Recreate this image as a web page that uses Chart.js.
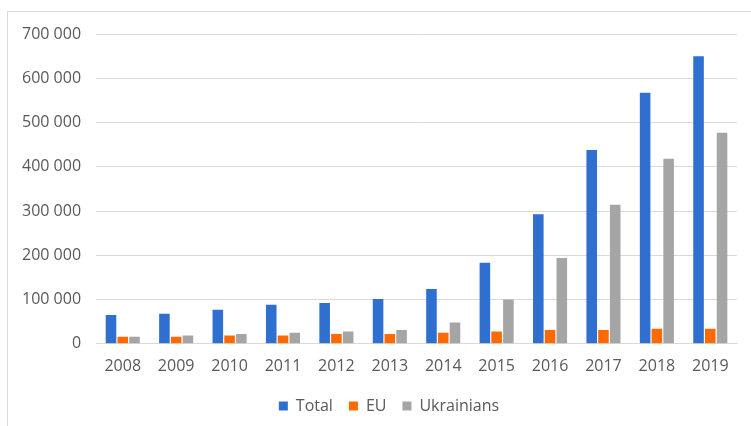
<!DOCTYPE html>
<html>
<head>
<meta charset="utf-8">
<script src="https://cdn.jsdelivr.net/npm/chart.js@4"></script>
<style>
  html, body { margin: 0; padding: 0; background: #fff; }
  #wrap { position: relative; width: 751px; height: 426px; }
  #frame { position: absolute; left: 7px; top: 11px; width: 760px; height: 420px;
           border-left: 1px solid #d9d9d9; border-top: 1px solid #d9d9d9; }
  canvas { position: absolute; left: 0; top: 0; }
</style>
</head>
<body>
<div id="wrap">
  <div id="frame"></div>
  <canvas id="chart" width="751" height="426"></canvas>
</div>
<script>
const years = ["2008", "2009", "2010", "2011", "2012", "2013", "2014", "2015", "2016", "2017", "2018", "2019"];
const total = [65000, 68000, 77000, 88000, 92000, 101000, 124000, 183000, 293000, 438000, 567000, 650000];
const eu = [16000, 16000, 19000, 19000, 22000, 22000, 25000, 28000, 31000, 31000, 34000, 34000];
const ukrainians = [16000, 19000, 22000, 25000, 28000, 31000, 48000, 100000, 194000, 314000, 418000, 477000];

const textColor = "#595959";
const font = { family: "'Open Sans', 'DejaVu Sans', sans-serif", size: 16 };

function fmt(v) {
    return String(v).replace(/\B(?=(\d{3})+(?!\d))/g, " ");
}

// nudge the legend a bit right, like the original
const legendShift = {
    id: "legendShift",
    afterLayout(chart) {
        chart.legend.left += 17;
        chart.legend.right += 17;
    }
};

new Chart(document.getElementById("chart"), {
    type: "bar",
    data: {
        labels: years,
        datasets: [
            { label: "Total", data: total, backgroundColor: "#2f6fcf" },
            { label: "EU", data: eu, backgroundColor: "#ff6a00" },
            { label: "Ukrainians", data: ukrainians, backgroundColor: "#a5a5a5" }
        ]
    },
    options: {
        responsive: false,
        animation: false,
        layout: { padding: { left: 7, right: 14, top: 34, bottom: 2 } },
        datasets: { bar: { categoryPercentage: 0.66, barPercentage: 0.9 } },
        plugins: {
            legend: {
                position: "bottom",
                labels: { color: textColor, font: font, boxWidth: 9, boxHeight: 9, padding: 16 }
            },
            tooltip: { enabled: false }
        },
        scales: {
            x: {
                grid: { display: false },
                border: { color: "#d9d9d9" },
                ticks: { color: textColor, font: font, padding: 5 },
                afterFit: s => { s.height += 1; }
            },
            y: {
                min: 0,
                max: 700000,
                grid: { color: "#d9d9d9", drawTicks: false },
                border: { display: false },
                ticks: { color: textColor, font: font, stepSize: 100000, padding: 15, callback: v => fmt(v) }
            }
        }
    },
    plugins: [legendShift]
});
</script>
</body>
</html>
